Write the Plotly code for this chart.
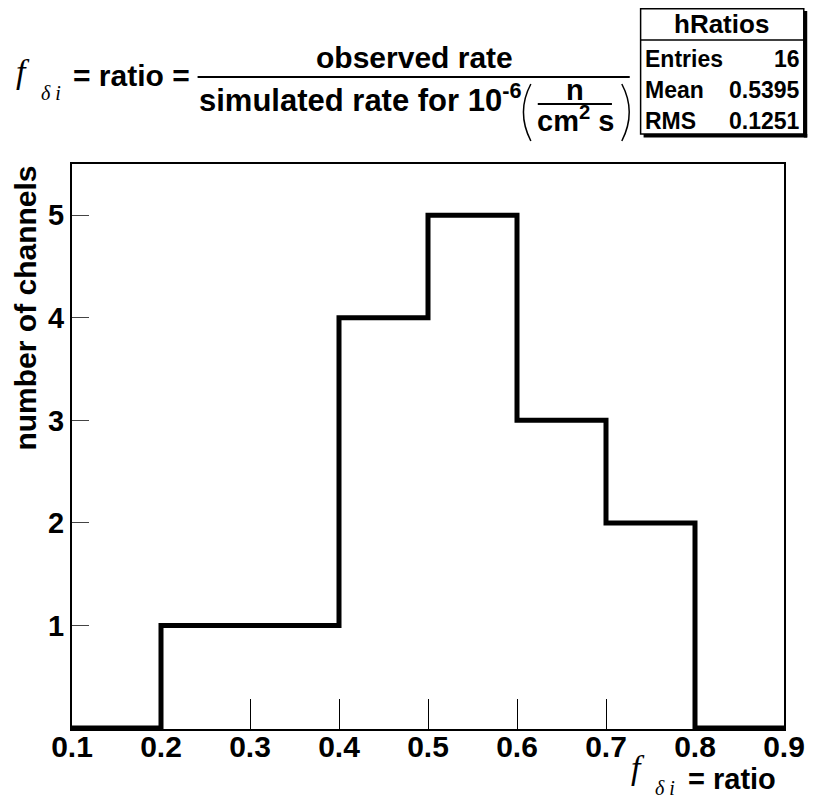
import plotly.graph_objects as go

# ---- data ----
bin_edges = [0.1, 0.2, 0.3, 0.4, 0.5, 0.6, 0.7, 0.8, 0.9]
bin_counts = [0, 1, 1, 4, 5, 3, 2, 0]
x_tick_vals = [0.1, 0.2, 0.3, 0.4, 0.5, 0.6, 0.7, 0.8, 0.9]
x_tick_text = ["0.1", "0.2", "0.3", "0.4", "0.5", "0.6", "0.7", "0.8", "0.9"]
y_tick_vals = [1, 2, 3, 4, 5]
y_tick_text = ["1", "2", "3", "4", "5"]
stats_name = "hRatios"
stats_labels = ["Entries", "Mean", "RMS"]
stats_values = ["16", "0.5395", "0.1251"]

# The page has the browser's default 8px body margin, so the figure is made
# 8px smaller and all positions below are given in window pixels.
PAGE_W, PAGE_H = 817, 801
OFF = 8
W, H = PAGE_W - OFF, PAGE_H - OFF
L, R, T, B = 72, 792, 164, 729  # plot area in window pixels


def px(x):
    return (x - L) / (R - L)


def py(y):
    return (B - y) / (B - T)


SANS = "Liberation Sans"
SERIF = "Liberation Serif"

fig = go.Figure()
fig.add_trace(go.Scatter(
    x=bin_edges,
    y=bin_counts + [bin_counts[-1]],
    mode="lines",
    line=dict(shape="hv", color="black", width=5),
    showlegend=False,
    hoverinfo="skip",
))

annotations = []


def text(x, y, s, size, family=SANS, xanchor="center", yanchor="middle", angle=0):
    annotations.append(dict(
        x=px(x), y=py(y), xref="paper", yref="paper", text=s, showarrow=False,
        font=dict(family=family, size=size, color="black"),
        xanchor=xanchor, yanchor=yanchor, textangle=angle,
    ))


# Title: f_δi = ratio = observed / simulated ...
text(13, 71, "<i>f</i>", 34, SERIF, xanchor="left")
text(39, 93, "<i>δ i</i>", 20, SERIF, xanchor="left")
text(71, 76, "<b>= ratio =</b>", 30, xanchor="left")
text(418, 57, "<b>observed rate</b>", 30)
text(198, 98, "<b>simulated rate for 10<sup>-6</sup></b>", 31, xanchor="left")
text(581, 90, "<b>n</b>", 29)
text(581, 119, "<b>cm<sup>2</sup> s</b>", 29)

# X axis title
text(635, 767, "<i>f</i>", 34, SERIF, xanchor="left")
text(660, 788, "<i>δ i</i>", 20, SERIF, xanchor="left")
text(786, 779, "<b>= ratio</b>", 29, xanchor="right")

# Y axis title
text(24, 308, "<b>number of channels</b>", 30, angle=-90)

# Stats box text
text(729, 24, "<b>%s</b>" % stats_name, 26)
for i, (lab, val) in enumerate(zip(stats_labels, stats_values)):
    yy = 59 + i * 31
    text(649, yy, "<b>%s</b>" % lab, 23, xanchor="left")
    text(810, yy, "<b>%s</b>" % val, 23, xanchor="right")

shapes = []


def line(x0, y0, x1, y1, w=2):
    shapes.append(dict(type="line", xref="paper", yref="paper",
                       x0=px(x0), y0=py(y0), x1=px(x1), y1=py(y1),
                       line=dict(color="black", width=w)))


def rect(x0, y0, x1, y1, fill=None, w=1.5):
    shapes.append(dict(type="rect", xref="paper", yref="paper",
                       x0=px(x0), y0=py(y0), x1=px(x1), y1=py(y1),
                       line=dict(color="black", width=w if fill is None else 0),
                       fillcolor=fill if fill else "rgba(0,0,0,0)"))


def path(points, w=1.5):
    d = "M %f,%f Q %f,%f %f,%f" % (px(points[0][0]), py(points[0][1]),
                                   px(points[1][0]), py(points[1][1]),
                                   px(points[2][0]), py(points[2][1]))
    shapes.append(dict(type="path", xref="paper", yref="paper", path=d,
                       line=dict(color="black", width=w)))


# fraction bars
line(199, 77, 636, 77, 2)
line(543, 104, 618, 104, 2)
# parentheses
path([(536, 84), (521, 112), (536, 141)], 1.5)
path([(628, 84), (643, 112), (628, 141)], 1.5)

# stats box with shadow
rect(650, 134, 815.5, 137.5, fill="black")
rect(812, 11, 815.5, 137.5, fill="black")
rect(647, 8.8, 812, 134, fill="white", w=0)
rect(647, 8.8, 812, 134, w=1.5)
line(647, 40, 812, 40, 1.5)

fig.update_layout(
    width=W, height=H,
    margin=dict(l=L - OFF, r=PAGE_W - R, t=T - OFF, b=PAGE_H - B, pad=0),
    paper_bgcolor="white", plot_bgcolor="white",
    annotations=annotations, shapes=shapes,
    showlegend=False,
    xaxis=dict(
        range=[0.1, 0.9], tickvals=x_tick_vals, ticktext=x_tick_text,
        ticks="inside", ticklen=30, tickwidth=1, tickcolor="black",
        showline=True, linecolor="black", linewidth=2, mirror=True,
        showgrid=False, zeroline=False, ticklabelstandoff=-10,
        tickfont=dict(family=SANS, size=30, color="black", weight="bold"),
    ),
    yaxis=dict(
        range=[-0.01, 5.5], tickvals=y_tick_vals, ticktext=y_tick_text,
        ticks="inside", ticklen=17, tickwidth=1, tickcolor="#444",
        showline=True, linecolor="black", linewidth=2, mirror=True,
        showgrid=False, zeroline=False,
        tickfont=dict(family=SANS, size=29, color="black", weight="bold"),
    ),
)

fig.write_html("out.html", config={"displayModeBar": False})
